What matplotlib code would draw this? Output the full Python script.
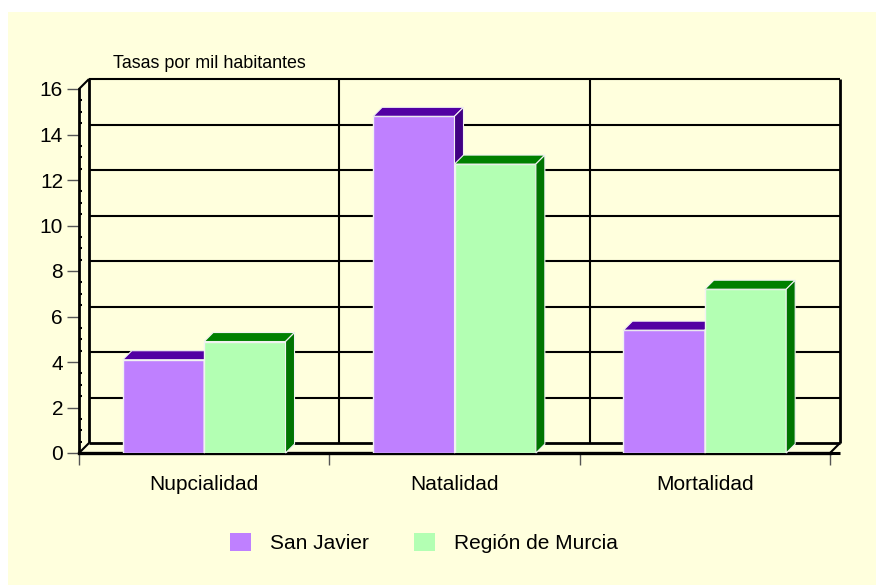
import matplotlib
matplotlib.use('Agg')
import matplotlib.pyplot as plt
from matplotlib.patches import Rectangle, Polygon
from matplotlib.ticker import MultipleLocator

# datos
categorias = ['Nupcialidad', 'Natalidad', 'Mortalidad']
series = ['San Javier', 'Región de Murcia']
san_javier = [4.1, 14.8, 5.4]
region_murcia = [4.9, 12.7, 7.2]
y_ticks = [0, 2, 4, 6, 8, 10, 12, 14, 16]

plt.rcParams['font.family'] = ['Liberation Sans', 'DejaVu Sans']

W, H = 876, 585
fig = plt.figure(figsize=(W / 100, H / 100), dpi=100, facecolor='white')
fig.patches.append(Rectangle((8 / W, 0), 1 - 8 / W, 1 - 12 / H, transform=fig.transFigure,
                             facecolor='#FFFFDD', edgecolor='none', zorder=-10))

ax = fig.add_axes([79 / W, (H - 453) / H, (830 - 79) / W, (453 - 89) / H])
ax.set_facecolor('none')
ax.set_xlim(0, 3)
ax.set_ylim(0, 16)

# pixeles -> unidades de datos (para la profundidad 3D)
bb = ax.get_window_extent()
sx = 3 / bb.width
sy = 16 / bb.height
wx, wy = 10 * sx, 10 * sy   # profundidad de las paredes
bx, by = 9 * sx, 9 * sy     # profundidad de las barras

# pared del fondo
kw = dict(color='black', clip_on=False, zorder=1, solid_capstyle='butt')
for y in y_ticks[1:]:
    ax.plot([wx, 3 + wx], [y + wy, y + wy], lw=1.5, **kw)
for x in [1, 2]:
    ax.plot([x + wx, x + wx], [wy, 16 + wy], lw=1.5, **kw)
ax.plot([wx, wx], [wy, 16 + wy], lw=2, **kw)
ax.plot([3 + wx, 3 + wx], [wy, 16 + wy], lw=2, **kw)
ax.plot([wx, 3 + wx], [wy, wy], lw=2, **kw)
# diagonales
ax.plot([0, wx], [0, wy], lw=1.5, **kw)
ax.plot([0, wx], [16, 16 + wy], lw=1.5, **kw)
ax.plot([3, 3 + wx], [0, wy], lw=1.5, **kw)
ax.plot([3, 3 + wx], [0, 0], lw=2.2, **kw)

bw = 0.325


def barra(x0, v, front, top, side, z):
  ax.add_patch(Rectangle((x0, 0), bw, v, facecolor=front, edgecolor='#F2F2F2', lw=1, zorder=z))
  ax.add_patch(Polygon([(x0, v), (x0 + bw, v), (x0 + bw + bx, v + by), (x0 + bx, v + by)],
                       facecolor=top, edgecolor='#F2F2F2', lw=0.8, zorder=z, clip_on=False))
  ax.add_patch(Polygon([(x0 + bw, 0), (x0 + bw + bx, by), (x0 + bw + bx, v + by), (x0 + bw, v)],
                       facecolor=side, edgecolor='#F2F2F2', lw=0.8, zorder=z, clip_on=False))


for i in range(len(categorias)):
  barra(i + 0.5 - bw, san_javier[i], '#BF80FF', '#5200A3', '#420084', 3)
  barra(i + 0.5, region_murcia[i], '#B3FFB3', '#008000', '#007400', 4)

# ejes
for s in ['top', 'right']:
  ax.spines[s].set_visible(False)
ax.spines['left'].set_linewidth(2)
ax.spines['bottom'].set_linewidth(2.4)

ax.set_yticks(y_ticks)
ax.yaxis.set_minor_locator(MultipleLocator(0.5))
ax.tick_params(axis='y', which='major', direction='out', length=8.5, width=1,
               color='#555555', labelsize=15, pad=3)
ax.tick_params(axis='y', which='minor', direction='in', length=2, width=1.5, color='black')

ax.set_xticks([0, 1, 2, 3])
ax.set_xticklabels(['', '', '', ''])
ax.set_xticks([0.5, 1.5, 2.5], minor=True)
ax.set_xticklabels(categorias, minor=True)
ax.tick_params(axis='x', which='major', direction='out', length=8.5, width=1, color='#555555')
ax.tick_params(axis='x', which='minor', length=0, labelsize=15, pad=16)

fig.text(113 / W, 1 - 63 / H, 'Tasas por mil habitantes', fontsize=12.9, va='center')

handles = [Rectangle((0, 0), 1, 1, facecolor='#BF80FF', edgecolor='none'),
           Rectangle((0, 0), 1, 1, facecolor='#B3FFB3', edgecolor='none')]
fig.legend(handles, series, loc='center', bbox_to_anchor=(424 / W, 1 - 543 / H), ncol=2,
           frameon=False, fontsize=15, handlelength=1.0, handleheight=1.0,
           handletextpad=0.9, columnspacing=2.2)

fig.savefig('out.png', dpi=100, facecolor=fig.get_facecolor())
